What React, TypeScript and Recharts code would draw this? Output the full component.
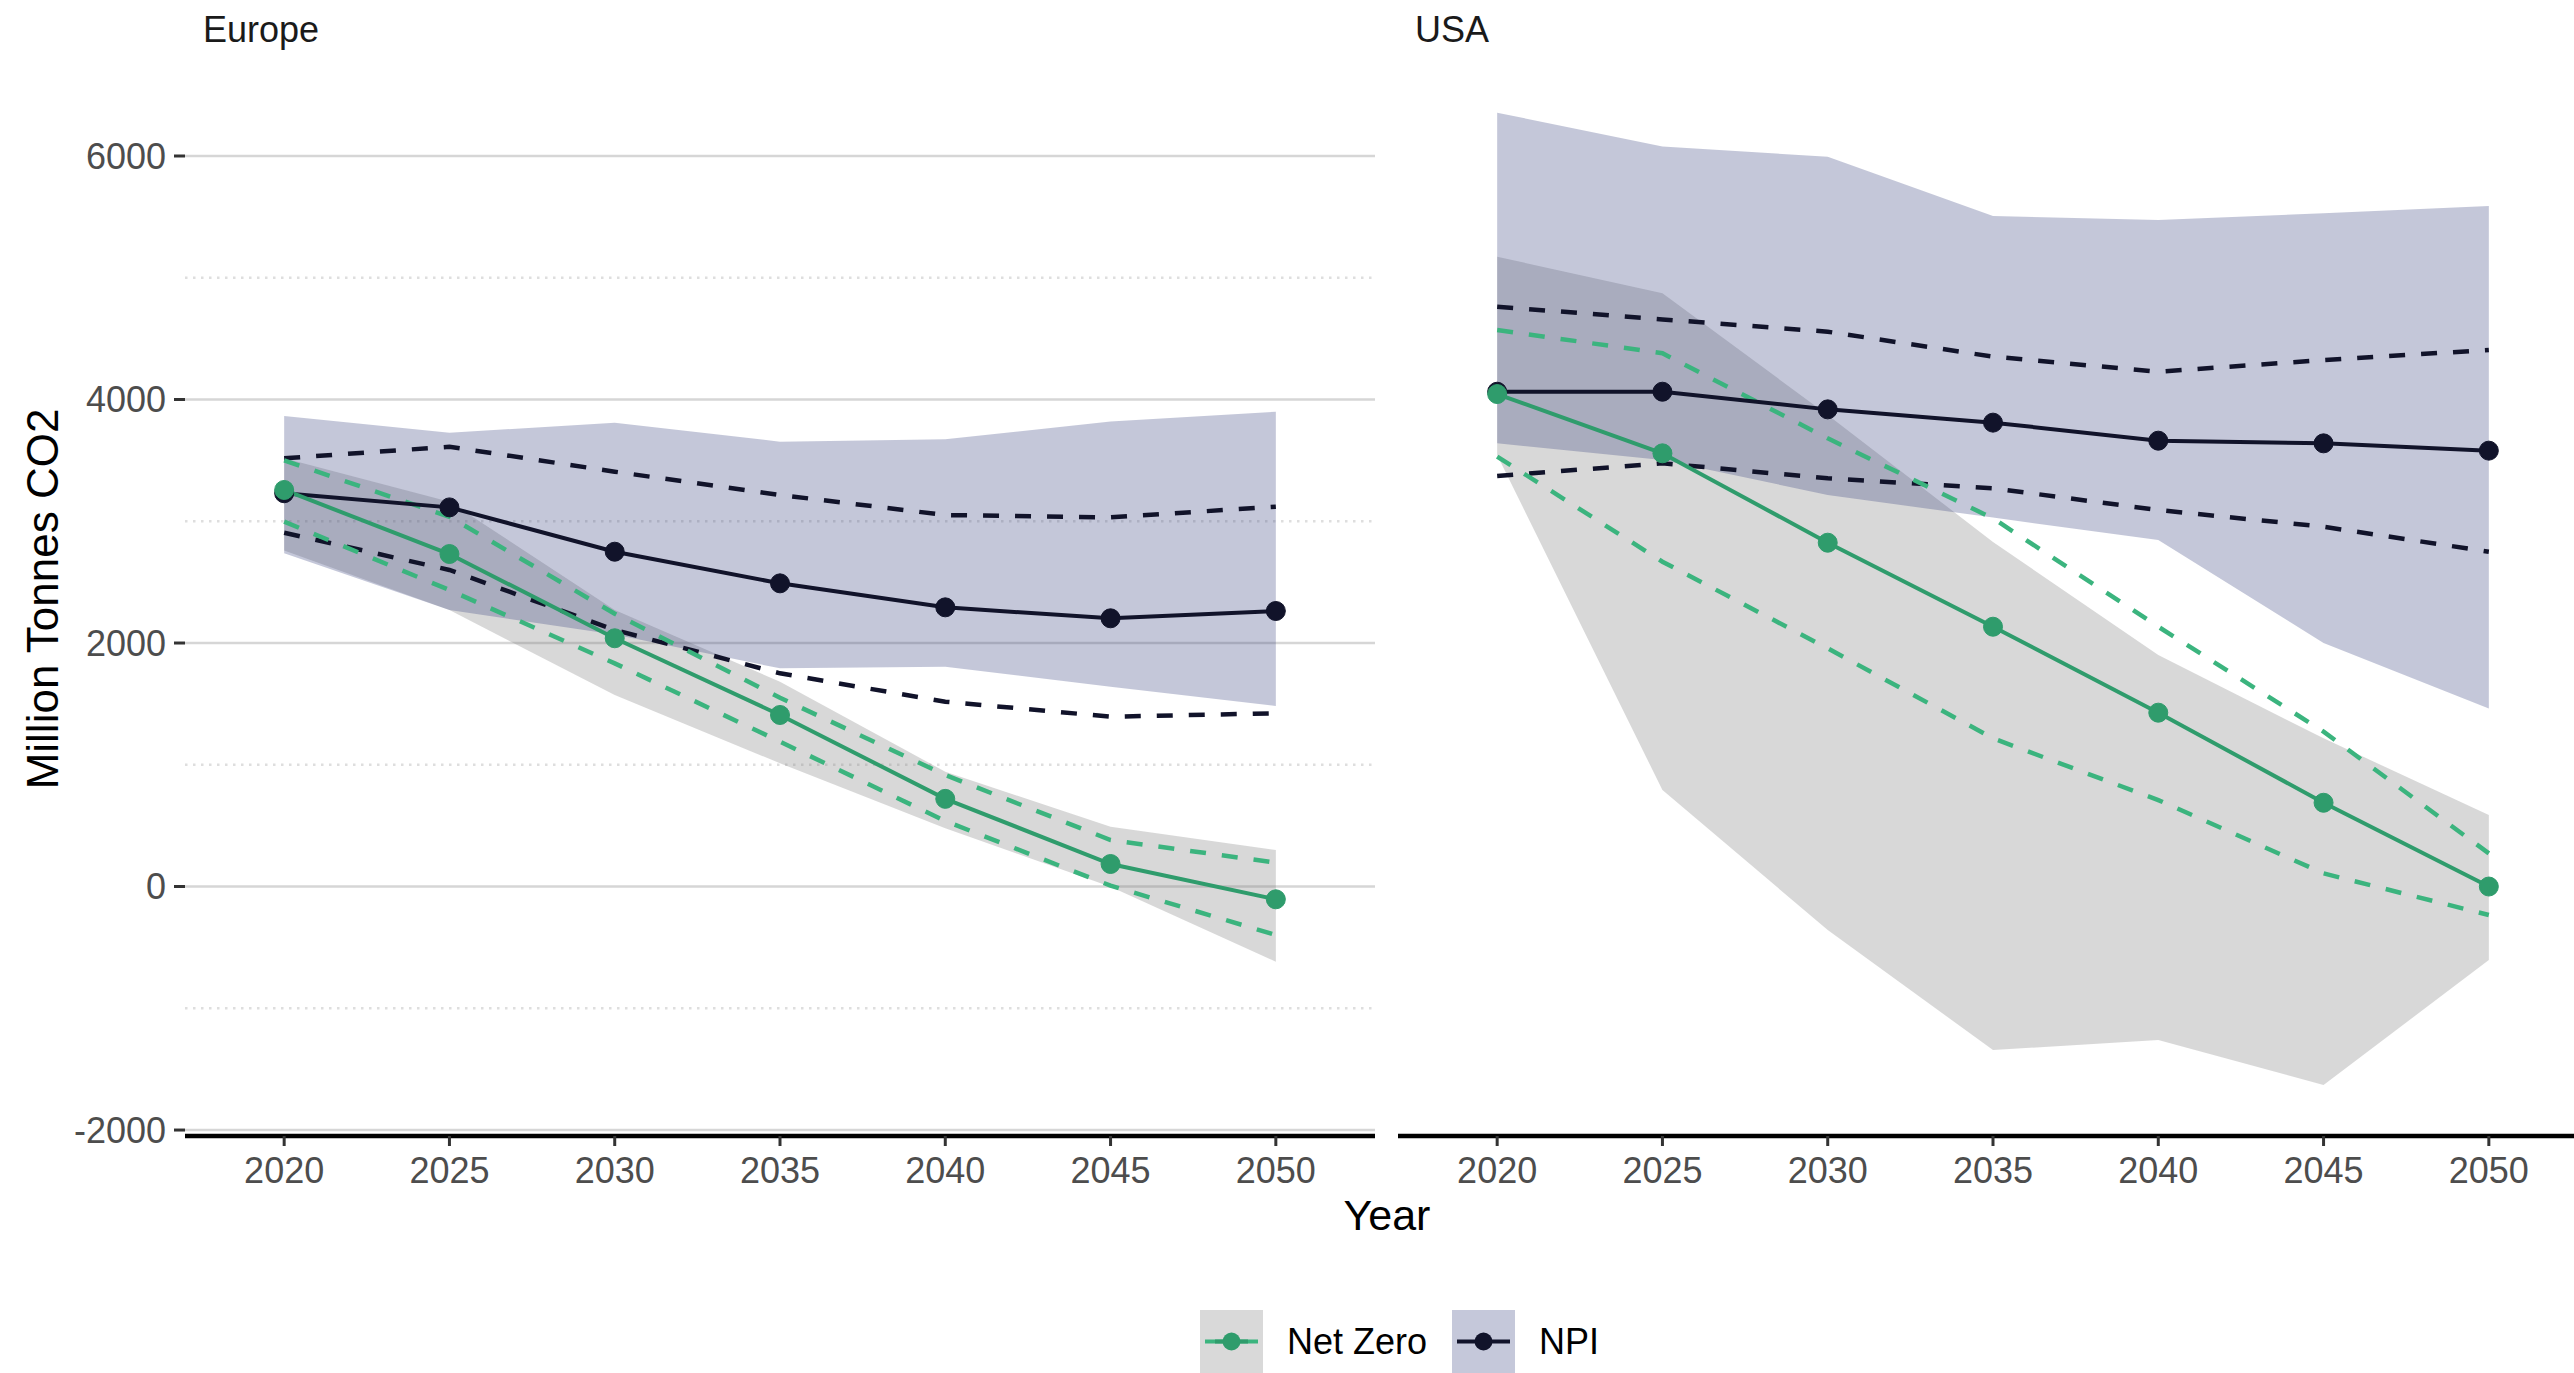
import React from 'react';
import { ComposedChart, Area, Line, XAxis, YAxis, CartesianGrid } from 'recharts';

const years = [2020, 2025, 2030, 2035, 2040, 2045, 2050];
const yTicks = [-2000, 0, 2000, 4000, 6000];
const yMinor = [-1000, 1000, 3000, 5000];

// Europe: NPI scenario
const euNpiMean = [3230, 3114, 2750, 2490, 2293, 2203, 2263];
const euNpiHigh = [3517, 3612, 3407, 3216, 3051, 3032, 3120];
const euNpiLow = [2906, 2600, 2107, 1751, 1518, 1395, 1423];
const euNpiMax = [3865, 3727, 3810, 3654, 3673, 3820, 3900];
const euNpiMin = [2737, 2271, 2070, 1792, 1805, 1641, 1483];
// Europe: Net Zero scenario
const euNzMean = [3257, 2731, 2039, 1409, 720, 185, -105];
const euNzHigh = [3500, 3037, 2240, 1550, 916, 382, 196];
const euNzLow = [2997, 2435, 1833, 1190, 538, 7, -398];
const euNzMax = [3517, 3161, 2271, 1682, 943, 491, 300];
const euNzMin = [2760, 2271, 1573, 1012, 478, -2, -618];

// USA: NPI scenario
const usNpiMean = [4064, 4064, 3919, 3810, 3662, 3640, 3580];
const usNpiHigh = [4762, 4658, 4557, 4352, 4228, 4324, 4407];
const usNpiLow = [3372, 3476, 3353, 3271, 3092, 2955, 2750];
const usNpiMax = [6356, 6077, 5994, 5507, 5474, 5529, 5589];
const usNpiMin = [3640, 3503, 3216, 3030, 2846, 2000, 1463];
// USA: Net Zero scenario
const usNzMean = [4045, 3558, 2824, 2134, 1428, 688, 0];
const usNzHigh = [4571, 4380, 3681, 3024, 2134, 1272, 272];
const usNzLow = [3531, 2668, 1956, 1217, 710, 108, -234];
const usNzMax = [5173, 4872, 3873, 2830, 1901, 1217, 587];
const usNzMin = [3544, 792, -357, -1343, -1260, -1630, -604];

const buildRows = (
  npiMean: number[], npiHigh: number[], npiLow: number[], npiMax: number[], npiMin: number[],
  nzMean: number[], nzHigh: number[], nzLow: number[], nzMax: number[], nzMin: number[]
) =>
  years.map((year, i) => ({
    year,
    npiMean: npiMean[i],
    npiHigh: npiHigh[i],
    npiLow: npiLow[i],
    npiRange: [npiMin[i], npiMax[i]],
    nzMean: nzMean[i],
    nzHigh: nzHigh[i],
    nzLow: nzLow[i],
    nzRange: [nzMin[i], nzMax[i]],
  }));

const europeRows = buildRows(euNpiMean, euNpiHigh, euNpiLow, euNpiMax, euNpiMin, euNzMean, euNzHigh, euNzLow, euNzMax, euNzMin);
const usaRows = buildRows(usNpiMean, usNpiHigh, usNpiLow, usNpiMax, usNpiMin, usNzMean, usNzHigh, usNzLow, usNzMax, usNzMin);

const FONT = '"Liberation Sans", Arial, Helvetica, sans-serif';
const GREEN = '#2f9c6c';
const GREEN_DASH = '#3bb47e';
const NAVY = '#11132a';

const PLOT_W = 1190;
const PLOT_TOP = 62;
const PLOT_H = 1074;
const X_AXIS_H = 60;
const Y_AXIS_W = 185;

const tickStyle = { fontFamily: FONT, fontSize: 36, fill: '#4d4d4d' };

function Panel({ rows, withAxis }: { rows: any[]; withAxis: boolean }) {
  const yw = withAxis ? Y_AXIS_W : 0;
  return (
    <ComposedChart
      width={yw + PLOT_W}
      height={PLOT_TOP + PLOT_H + X_AXIS_H}
      data={rows}
      margin={{ top: PLOT_TOP, right: 0, bottom: 0, left: 0 }}
    >
      <CartesianGrid vertical={false} horizontalValues={yTicks} stroke="#d6d6d6" strokeWidth={2.6} />
      <CartesianGrid vertical={false} horizontalValues={yMinor} stroke="#dedede" strokeWidth={2.4} strokeDasharray="2.5 5.5" />
      <XAxis
        dataKey="year"
        type="number"
        domain={[2017, 2053]}
        ticks={years}
        allowDataOverflow
        height={X_AXIS_H}
        tickSize={10}
        tickMargin={11}
        axisLine={{ stroke: '#000', strokeWidth: 4.5 }}
        tickLine={{ stroke: '#333', strokeWidth: 3 }}
        tick={tickStyle}
      />
      <YAxis
        type="number"
        domain={[-2049, 6772]}
        ticks={yTicks}
        allowDataOverflow
        width={yw}
        axisLine={false}
        tickSize={11}
        tickMargin={8}
        tickLine={withAxis ? { stroke: '#333', strokeWidth: 3 } : false}
        tick={withAxis ? tickStyle : false}
      />
      {/* min/max ribbons */}
      <Area type="linear" dataKey="nzRange" stroke="none" fill="#7f7f7f" fillOpacity={0.3} isAnimationActive={false} />
      <Area type="linear" dataKey="npiRange" stroke="none" fill="#3c4682" fillOpacity={0.3} isAnimationActive={false} />
      {/* dashed quantile bounds */}
      <Line type="linear" dataKey="npiHigh" stroke={NAVY} strokeWidth={4.5} strokeDasharray="16 16" dot={false} activeDot={false} isAnimationActive={false} />
      <Line type="linear" dataKey="npiLow" stroke={NAVY} strokeWidth={4.5} strokeDasharray="16 16" dot={false} activeDot={false} isAnimationActive={false} />
      <Line type="linear" dataKey="nzHigh" stroke={GREEN_DASH} strokeWidth={4.5} strokeDasharray="16 16" dot={false} activeDot={false} isAnimationActive={false} />
      <Line type="linear" dataKey="nzLow" stroke={GREEN_DASH} strokeWidth={4.5} strokeDasharray="16 16" dot={false} activeDot={false} isAnimationActive={false} />
      {/* scenario means */}
      <Line type="linear" dataKey="npiMean" stroke={NAVY} strokeWidth={4} dot={{ r: 9.5, fill: NAVY, stroke: NAVY, strokeWidth: 1 }} activeDot={false} isAnimationActive={false} />
      <Line type="linear" dataKey="nzMean" stroke={GREEN} strokeWidth={4} dot={{ r: 9.5, fill: GREEN, stroke: GREEN, strokeWidth: 1 }} activeDot={false} isAnimationActive={false} />
    </ComposedChart>
  );
}

export default function App() {
  return (
    <div style={{ position: 'absolute', left: 0, top: 0, width: 2574, height: 1373, overflow: 'hidden', background: '#fff' }}>
      <div style={{ position: 'absolute', left: 0, top: 0 }}>
        <Panel rows={europeRows} withAxis />
      </div>
      <div style={{ position: 'absolute', left: 1398, top: 0 }}>
        <Panel rows={usaRows} withAxis={false} />
      </div>
      <svg width={2574} height={1373} style={{ position: 'absolute', left: 0, top: 0, pointerEvents: 'none' }} fontFamily={FONT}>
        {/* facet strips */}
        <text x={203} y={42} fontSize={36} fill="#1a1a1a">Europe</text>
        <text x={1415} y={42} fontSize={36} fill="#1a1a1a">USA</text>
        {/* axis titles */}
        <text x={1387} y={1230} fontSize={43} textAnchor="middle" fill="#000">Year</text>
        <text x={58} y={599} fontSize={44} textAnchor="middle" fill="#000" transform="rotate(-90 58 599)">
          Million Tonnes CO2
        </text>
        {/* legend */}
        <rect x={1200} y={1310} width={63} height={63} fill="#d9d9d9" />
        <line x1={1205} x2={1258} y1={1341.5} y2={1341.5} stroke={GREEN_DASH} strokeWidth={4} />
        <line x1={1215} x2={1248} y1={1341.5} y2={1341.5} stroke={GREEN} strokeWidth={4} />
        <circle cx={1231.5} cy={1341.5} r={9} fill={GREEN} />
        <text x={1287} y={1354} fontSize={36} fill="#000">Net Zero</text>
        <rect x={1452} y={1310} width={63} height={63} fill="#c5c8da" />
        <line x1={1457} x2={1510} y1={1341.5} y2={1341.5} stroke={NAVY} strokeWidth={4} />
        <circle cx={1483.5} cy={1341.5} r={9} fill={NAVY} />
        <text x={1539} y={1354} fontSize={36} fill="#000">NPI</text>
      </svg>
    </div>
  );
}
